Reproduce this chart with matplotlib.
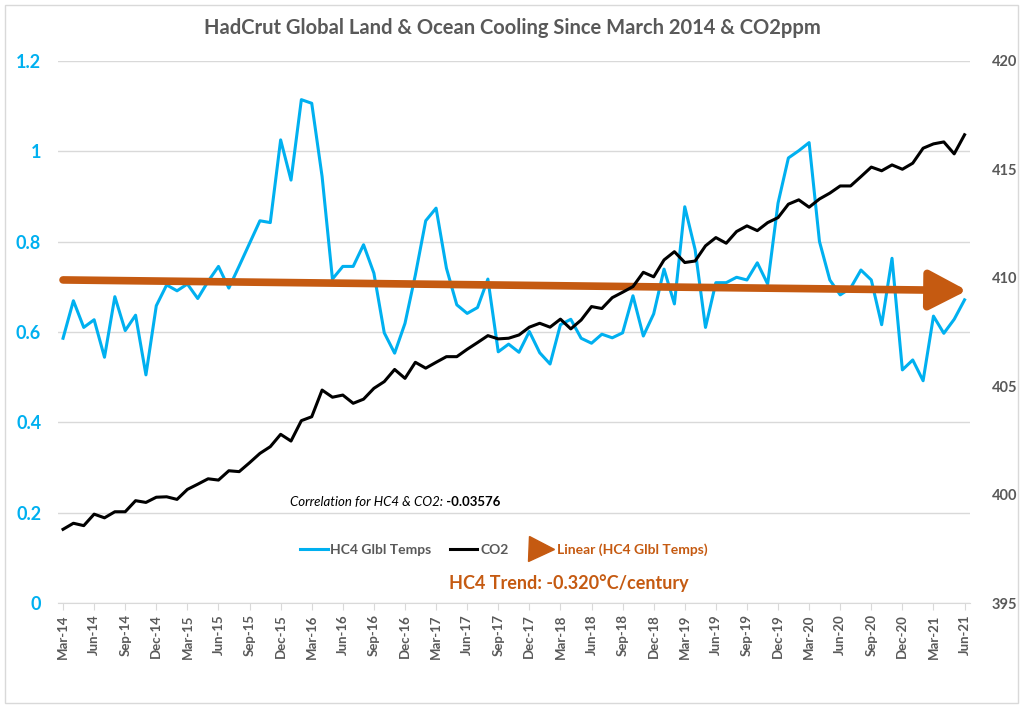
import numpy as np
import matplotlib
matplotlib.use("Agg")
import matplotlib.pyplot as plt
from matplotlib.lines import Line2D
from matplotlib.patches import Rectangle

plt.rcParams['font.family'] = ['Lato', 'DejaVu Sans']

# Tháng: Mar-14 .. Jun-21 (88 tháng)
thang = ['Jan', 'Feb', 'Mar', 'Apr', 'May', 'Jun',
         'Jul', 'Aug', 'Sep', 'Oct', 'Nov', 'Dec']
nhan_thang = []
for nam in range(2014, 2022):
    for m in range(12):
        if (nam == 2014 and m < 2) or (nam == 2021 and m > 5):
            continue
        nhan_thang.append(f"{thang[m]}-{nam % 100:02d}")

# Nhiệt độ HadCRUT4 (°C)
hc4 = [0.586, 0.669, 0.610, 0.627, 0.544, 0.678, 0.603, 0.637, 0.505, 0.658,
       0.704, 0.691, 0.706, 0.674, 0.712, 0.745, 0.697, 0.746, 0.796, 0.846,
       0.842, 1.025, 0.936, 1.114, 1.106, 0.944, 0.717, 0.745, 0.745, 0.793,
       0.730, 0.598, 0.553, 0.619, 0.726, 0.846, 0.874, 0.741, 0.660, 0.641,
       0.654, 0.717, 0.556, 0.573, 0.555, 0.601, 0.554, 0.529, 0.616, 0.628,
       0.586, 0.575, 0.595, 0.587, 0.598, 0.680, 0.591, 0.640, 0.739, 0.662,
       0.877, 0.782, 0.610, 0.709, 0.709, 0.721, 0.715, 0.753, 0.706, 0.885,
       0.985, 1.001, 1.019, 0.800, 0.715, 0.682, 0.697, 0.737, 0.715, 0.616,
       0.763, 0.516, 0.538, 0.492, 0.635, 0.597, 0.628, 0.671]

# CO2 (ppm)
co2 = [398.40, 398.68, 398.57, 399.10, 398.93, 399.21, 399.21, 399.72, 399.64, 399.88,
       399.90, 399.78, 400.24, 400.48, 400.73, 400.67, 401.10, 401.06, 401.47, 401.90,
       402.21, 402.78, 402.47, 403.41, 403.59, 404.82, 404.49, 404.59, 404.21, 404.40,
       404.90, 405.21, 405.77, 405.36, 406.10, 405.83, 406.10, 406.36, 406.36, 406.70,
       407.01, 407.33, 407.18, 407.21, 407.36, 407.72, 407.90, 407.72, 408.09, 407.64,
       408.05, 408.67, 408.58, 409.08, 409.33, 409.59, 410.25, 410.04, 410.82, 411.20,
       410.70, 410.77, 411.47, 411.85, 411.59, 412.13, 412.39, 412.17, 412.54, 412.77,
       413.39, 413.59, 413.25, 413.63, 413.90, 414.23, 414.23, 414.66, 415.10, 414.93,
       415.20, 415.00, 415.28, 415.97, 416.17, 416.26, 415.71, 416.59]

x = np.arange(len(hc4))

mau_xanh = '#00B0F0'
mau_cam = '#C55A11'
mau_xam = '#595959'

fig = plt.figure(figsize=(10.24, 7.07), dpi=100)
ax = fig.add_axes([0.0565, 0.147, 0.8905, 0.767])
ax2 = ax.twinx()

# Đường xu hướng tuyến tính (mũi tên)
a, b = np.polyfit(x, hc4, 1)
x_cuoi = x[-1] + 0.25
ax.annotate('', xy=(x_cuoi, a * x_cuoi + b), xytext=(x[0], b),
            arrowprops=dict(arrowstyle='-|>,head_length=1.15,head_width=0.6',
                            mutation_scale=20, color=mau_cam, lw=5.5,
                            shrinkA=0, shrinkB=0, capstyle='round'),
            zorder=5)

ax.plot(x, hc4, color=mau_xanh, lw=2.2, zorder=3)
ax2.plot(x, co2, color='black', lw=2.2, zorder=3)

ax.set_xlim(-0.5, len(x) - 0.5)
ax.set_ylim(0, 1.2)
ax2.set_ylim(395, 420)
ax.set_yticks(np.arange(0, 1.21, 0.2))
ax.set_yticklabels(['0', '0.2', '0.4', '0.6', '0.8', '1', '1.2'])
ax2.set_yticks(np.arange(395, 421, 5))
ax.grid(axis='y', color='#D9D9D9', lw=1)
ax.set_axisbelow(True)

ax.set_xticks(x[::3])
ax.set_xticklabels(nhan_thang[::3], rotation=90)

for a_ in (ax, ax2):
    for s in a_.spines.values():
        s.set_visible(False)
ax.spines['bottom'].set_visible(True)
ax.spines['bottom'].set_color('#D9D9D9')

ax.tick_params(axis='y', length=0, labelsize=13, labelcolor=mau_xanh, pad=12)
ax.tick_params(axis='x', length=5, color='#D9D9D9', labelsize=9.5,
               labelcolor=mau_xam, pad=3)
ax2.tick_params(axis='y', length=0, labelsize=10.5, labelcolor=mau_xam, pad=16)
for t in ax.get_yticklabels() + ax.get_xticklabels() + ax2.get_yticklabels():
    t.set_fontweight('bold')

fig.text(0.5, 0.96, 'HadCrut Global Land & Ocean Cooling Since March 2014 & CO2ppm',
         ha='center', va='center', fontsize=14.5, fontweight='bold', color=mau_xam)

# Chú thích tương quan
t1 = ax.text(0.255, 0.187, 'Correlation for HC4 & CO2:', transform=ax.transAxes,
             fontsize=9.5, style='italic', color='black', ha='left', va='center')
ax.annotate(' -0.03576', xy=(1, 0.5), xycoords=t1, ha='left', va='center',
            fontsize=9.5, fontweight='bold', color='black')

handles = [Line2D([], [], color=mau_xanh, lw=2.2),
           Line2D([], [], color='black', lw=2.2),
           Line2D([], [], color=mau_cam, lw=0, marker='>', markersize=18)]
leg = fig.legend(handles, ['HC4 Glbl Temps', 'CO2', 'Linear (HC4 Glbl Temps)'],
                 loc='center', bbox_to_anchor=(0.492, 0.222), ncol=3, frameon=False,
                 handlelength=2.0, handletextpad=0.2, columnspacing=1.3,
                 prop=dict(size=10, weight='bold'))
for t, c in zip(leg.get_texts(), [mau_xam, mau_xam, mau_cam]):
    t.set_color(c)

fig.text(0.555, 0.175, 'HC4 Trend: -0.320°C/century', ha='center', va='center',
         fontsize=13, fontweight='bold', color=mau_cam)

fig.patches.append(Rectangle((0.005, 0.006), 0.989, 0.987, transform=fig.transFigure,
                             fill=False, edgecolor='#D9D9D9', lw=1))

fig.savefig('out.png', dpi=100)
